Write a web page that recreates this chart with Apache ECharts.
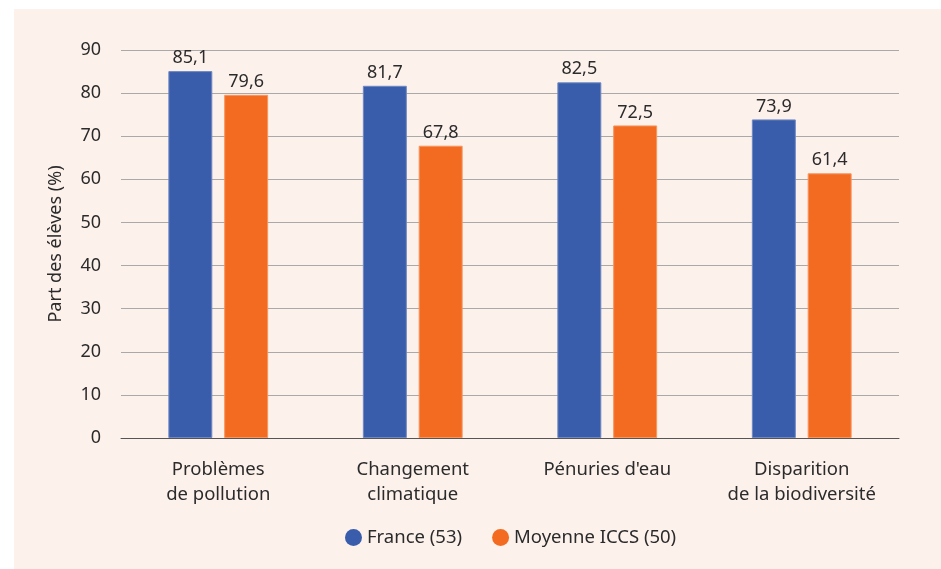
<!DOCTYPE html>
<html>
<head>
<meta charset="utf-8">
<script src="https://cdn.jsdelivr.net/npm/echarts@6/dist/echarts.min.js"></script>
<style>
  html, body { margin: 0; padding: 0; background: #ffffff; }
  #chart { position: absolute; left: 14px; top: 9px; width: 927px; height: 560px; background: #fdf1ec; }
</style>
</head>
<body>
<div id="chart"></div>
<script>
var categories = ['Problèmes\nde pollution', 'Changement\nclimatique', "Pénuries d'eau", 'Disparition\nde la biodiversité'];
var franceValues = [85.1, 81.7, 82.5, 73.9];
var iccsValues = [79.6, 67.8, 72.5, 61.4];
var seriesNames = ['France (53)', 'Moyenne ICCS (50)'];

var fontFamily = '"Noto Sans", sans-serif';
var textColor = '#2b2b2b';

function fmt(p) {
    return String(p.value).replace('.', ',');
}

var myChart = echarts.init(document.getElementById('chart'));
myChart.setOption({
    backgroundColor: '#fdf1ec',
    textStyle: { fontFamily: fontFamily },
    grid: { left: 107, right: 42, top: 41, bottom: 131 },
    legend: {
        bottom: 17,
        left: 326,
        icon: 'circle',
        itemWidth: 17,
        itemHeight: 17,
        itemGap: 30,
        itemStyle: { borderWidth: 0 },
        textStyle: { fontSize: 18.5, color: textColor, fontFamily: fontFamily },
        data: seriesNames
    },
    xAxis: {
        type: 'category',
        data: categories,
        axisTick: { show: false },
        axisLine: { lineStyle: { color: '#555555', width: 1 } },
        axisLabel: { fontSize: 18.5, color: textColor, margin: 19, lineHeight: 25 }
    },
    yAxis: {
        type: 'value',
        min: 0,
        max: 90,
        interval: 10,
        name: 'Part des élèves (%)',
        nameLocation: 'middle',
        nameGap: 56,
        nameTextStyle: { fontSize: 18, color: textColor },
        axisLabel: { fontSize: 18, color: textColor, margin: 20 },
        axisLine: { show: false },
        axisTick: { show: false },
        splitLine: { lineStyle: { color: '#a9a9a9', width: 1 } }
    },
    series: [
        {
            name: seriesNames[0],
            type: 'bar',
            data: franceValues,
            barWidth: '22.6%',
            barGap: '27%',
            itemStyle: { color: '#3a5dab', borderColor: '#6f88c2', borderWidth: 1 },
            label: { show: true, position: 'top', distance: 4, fontSize: 18, color: textColor, formatter: fmt }
        },
        {
            name: seriesNames[1],
            type: 'bar',
            data: iccsValues,
            barWidth: '22.6%',
            itemStyle: { color: '#f36b21', borderColor: '#f7955e', borderWidth: 1 },
            label: { show: true, position: 'top', distance: 4, fontSize: 18, color: textColor, formatter: fmt }
        }
    ]
});
</script>
</body>
</html>
